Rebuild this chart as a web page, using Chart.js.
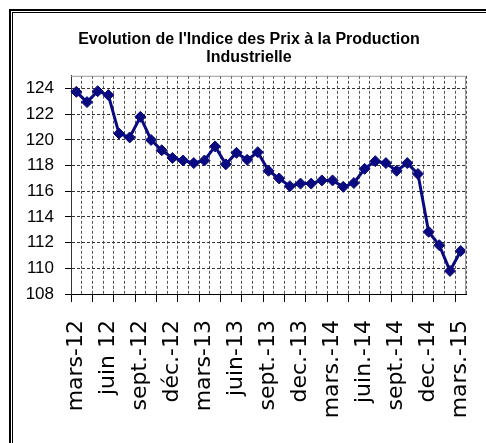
<!DOCTYPE html>
<html>
<head>
<meta charset="utf-8">
<script src="https://cdn.jsdelivr.net/npm/chart.js@4"></script>
<style>
  body { margin: 0; background: #fff; }
  #cadre { position: absolute; left: 9px; top: 9px; width: 520px; height: 470px;
           border-top: 2px solid #000; border-left: 2px solid #000; }
  #cadre2 { position: absolute; left: 1px; top: 1px; width: 520px; height: 470px;
            border-top: 1px solid #000; border-left: 1px solid #000; }
  #zone { position: relative; width: 486px; height: 443px; overflow: hidden; }
  canvas { position: absolute; left: 0; top: 0; }
</style>
</head>
<body>
<div id="zone">
  <div id="cadre"><div id="cadre2"></div></div>
  <canvas id="graficoIPPI" width="486" height="443"></canvas>
</div>
<script>
// mois (mars 2012 -> mars 2015), un label affiché tous les 3 mois
const mois = [
  'mars-12', 'avr.-12', 'mai-12', 'juin 12', 'juil.-12', 'août-12',
  'sept.-12', 'oct.-12', 'nov.-12', 'déc.-12', 'janv.-13', 'févr.-13',
  'mars-13', 'avr.-13', 'mai-13', 'juin-13', 'juil.-13', 'août-13',
  'sept.-13', 'oct.-13', 'nov.-13', 'dec.-13', 'janv.-14', 'févr.-14',
  'mars.-14', 'avr.-14', 'mai-14', 'juin.-14', 'juil.-14', 'août-14',
  'sept.-14', 'oct.-14', 'nov.-14', 'dec.-14', 'janv.-15', 'févr.-15',
  'mars.-15'
];

const indice = [
  123.75, 122.95, 123.8, 123.5, 120.5, 120.2,
  121.8, 120.0, 119.2, 118.6, 118.4, 118.2,
  118.4, 119.5, 118.1, 119.0, 118.45, 119.05,
  117.6, 117.0, 116.4, 116.6, 116.6, 116.85,
  116.85, 116.35, 116.65, 117.75, 118.35, 118.2,
  117.6, 118.2, 117.35, 112.85, 111.8, 109.8,
  111.35
];

const Y_MIN = 108;
const Y_MAX = 125;
const Y_PAS = 2;

const titre = ["Evolution de l'Indice des Prix à la Production", "Industrielle"];

// cadre gris autour de la zone de tracé
const bordZone = {
  id: 'bordZone',
  afterDraw(chart) {
    const { ctx, chartArea: a } = chart;
    ctx.save();
    ctx.strokeStyle = '#9a9a9a';
    ctx.lineWidth = 1;
    ctx.beginPath();
    ctx.moveTo(a.left, a.top + 0.5);
    ctx.lineTo(a.right - 0.5, a.top + 0.5);
    ctx.lineTo(a.right - 0.5, a.bottom);
    ctx.stroke();
    ctx.restore();
  }
};

const ctx = document.getElementById('graficoIPPI').getContext('2d');
new Chart(ctx, {
  type: 'line',
  data: {
    labels: mois,
    datasets: [{
      data: indice,
      borderColor: '#0a0a80',
      backgroundColor: '#0a0a80',
      borderWidth: 3,
      pointStyle: 'rectRot',
      pointRadius: 5.5,
      pointBorderWidth: 1,
      tension: 0
    }]
  },
  options: {
    responsive: false,
    animation: false,
    layout: { padding: { left: 12, right: 0, top: 0, bottom: 0 } },
    plugins: {
      legend: { display: false },
      tooltip: { enabled: false },
      title: {
        display: true,
        text: titre,
        color: '#000',
        font: { family: '"Liberation Sans", Arial, sans-serif', size: 16, weight: 'bold', lineHeight: 1.15 },
        padding: { top: 30, bottom: 9 }
      }
    },
    scales: {
      x: {
        offset: true,
        grid: {
          offset: true,
          color: '#555',
          lineWidth: 1,
          tickLength: 8,
          tickColor: c => (c.index % 2 === 0 ? '#000' : 'rgba(0,0,0,0)')
        },
        border: { color: '#000', width: 1, dash: [3, 2] },
        ticks: {
          autoSkip: false,
          maxRotation: 90,
          minRotation: 90,
          padding: 18,
          color: '#000',
          font: { family: '"DejaVu Sans", sans-serif', size: 22 },
          callback: function (v, i) { return i % 3 === 0 ? mois[i] : ''; }
        },
        afterFit: s => { s.height = 149; s.paddingRight = 20; s.paddingLeft = 0; }
      },
      y: {
        min: Y_MIN,
        max: Y_MAX,
        grid: { color: '#333', lineWidth: 1, tickLength: 6, tickColor: '#000' },
        border: { color: '#333', width: 1, dash: [3, 2] },
        ticks: {
          stepSize: Y_PAS,
          includeBounds: false,
          padding: 11,
          color: '#000',
          font: { family: '"Liberation Sans", Arial, sans-serif', size: 17 }
        },
        afterFit: s => { s.width = 59; }
      }
    }
  },
  plugins: [bordZone]
});
</script>
</body>
</html>
